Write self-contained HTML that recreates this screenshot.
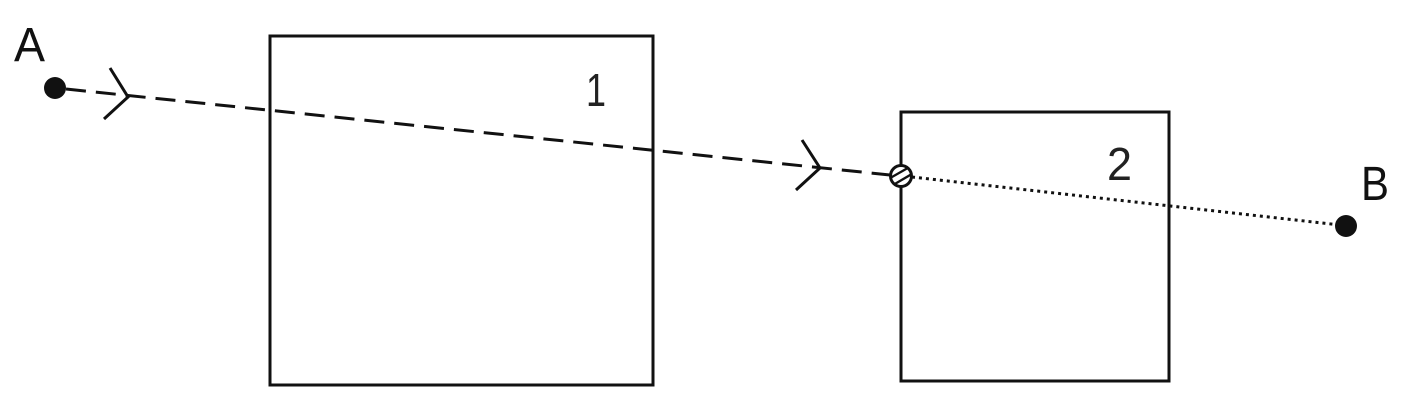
<!DOCTYPE html>
<html><head><meta charset="utf-8"><style>html,body{margin:0;padding:0;background:#fff}svg{display:block}</style></head>
<body>
<svg width="1401" height="404" viewBox="0 0 1401 404" font-family="'Liberation Sans', sans-serif">
<rect x="270" y="36" width="383" height="349" fill="none" stroke="#111" stroke-width="3"/>
<rect x="901" y="112" width="268" height="269" fill="none" stroke="#111" stroke-width="3"/>
<text x="586" y="106" font-size="46" fill="#222" textLength="20" lengthAdjust="spacingAndGlyphs">1</text>
<text x="1107" y="180" font-size="46" fill="#222" textLength="25" lengthAdjust="spacingAndGlyphs">2</text>
<text x="14" y="61" font-size="48" fill="#111" textLength="31" lengthAdjust="spacingAndGlyphs">A</text>
<text x="1361" y="200" font-size="48" fill="#111" textLength="28" lengthAdjust="spacingAndGlyphs">B</text>
<line x1="66" y1="89" x2="890" y2="175" stroke="#111" stroke-width="3" stroke-dasharray="20 10"/>
<line x1="912" y1="177" x2="1340" y2="225" stroke="#111" stroke-width="3" stroke-dasharray="3 4"/>
<polyline points="110,68 128,97 104,119" fill="none" stroke="#111" stroke-width="3"/>
<polyline points="802,140 820,168 796,190" fill="none" stroke="#111" stroke-width="3"/>
<circle cx="55" cy="88" r="11" fill="#111"/>
<circle cx="1346" cy="226" r="11" fill="#111"/>
<defs><clipPath id="hc"><circle cx="901" cy="176" r="10"/></clipPath></defs>
<g>
<circle cx="901" cy="176" r="10.5" fill="#fff"/>
<g clip-path="url(#hc)" stroke="#111" stroke-width="2.3">
<line x1="883" y1="174" x2="909" y2="159"/><line x1="885" y1="181" x2="913" y2="165"/><line x1="888" y1="188" x2="917" y2="171"/><line x1="891" y1="195" x2="921" y2="177"/>
</g>
<circle cx="901" cy="176" r="10.5" fill="none" stroke="#111" stroke-width="3"/>
</g>
</svg>
</body></html>
